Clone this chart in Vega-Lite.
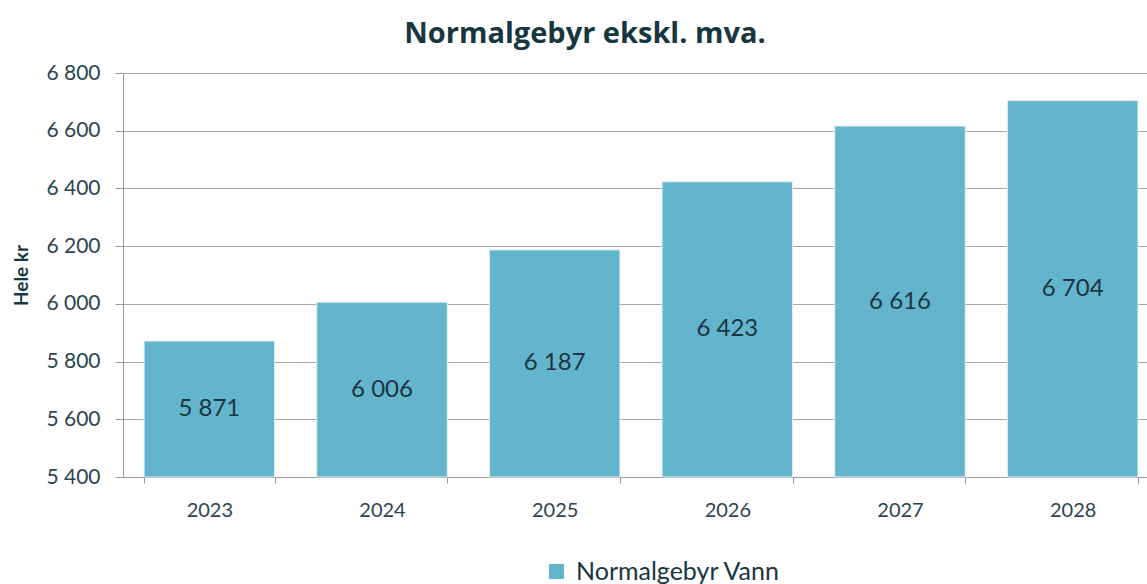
{
  "$schema": "https://vega.github.io/schema/vega-lite/v6.json",
  "autosize": "none",
  "padding": {"left": 123, "top": 73, "right": 0, "bottom": 107},
  "width": 1036,
  "height": 404,
  "background": "white",
  "config": {
    "locale": {"number": {"decimal": ",", "thousands": " ", "grouping": [3], "currency": ["", " kr"]}},
    "view": {"stroke": null},
    "font": "Lato"
  },
  "title": {
    "text": "Normalgebyr ekskl. mva.",
    "fontSize": 29,
    "fontWeight": "bold",
    "font": "Open Sans",
    "color": "#17363f",
    "anchor": "middle",
    "dx": -56,
    "dy": 40,
    "offset": 30,
    "baseline": "alphabetic"
  },
  "data": {
    "values": [
      {"year": "2023", "value": 5871, "series": "Normalgebyr Vann"},
      {"year": "2024", "value": 6006, "series": "Normalgebyr Vann"},
      {"year": "2025", "value": 6187, "series": "Normalgebyr Vann"},
      {"year": "2026", "value": 6423, "series": "Normalgebyr Vann"},
      {"year": "2027", "value": 6616, "series": "Normalgebyr Vann"},
      {"year": "2028", "value": 6704, "series": "Normalgebyr Vann"}
    ]
  },
  "encoding": {
    "x": {
      "field": "year",
      "type": "nominal",
      "sort": null,
      "scale": {"paddingInner": 0.244, "paddingOuter": 0.122},
      "axis": {
        "title": null,
        "labelAngle": 0,
        "tickBand": "extent",
        "labelFontSize": 20,
        "labelColor": "#2b4550",
        "labelPadding": 17,
        "tickSize": 6,
        "tickColor": "#9a9a9a",
        "domainColor": "#9a9a9a",
        "grid": false
      }
    }
  },
  "layer": [
    {
      "mark": {"type": "bar", "color": "#62b5cc", "stroke": "#dff0f5", "strokeWidth": 1},
      "encoding": {
        "y": {
          "field": "value",
          "type": "quantitative",
          "scale": {"domain": [5400, 6800], "nice": false, "zero": false},
          "axis": {
            "title": "Hele kr",
            "titleFontSize": 19,
            "titleFontWeight": "bold",
            "titleColor": "#17363f",
            "titlePadding": 14,
            "values": [5400, 5600, 5800, 6000, 6200, 6400, 6600, 6800],
            "format": ",d",
            "labelFontSize": 21,
            "labelColor": "#2b4550",
            "labelPadding": 15,
            "tickSize": 8,
            "tickColor": "#9a9a9a",
            "domainColor": "#9a9a9a",
            "gridColor": "#a6a6a6",
            "gridWidth": 1.2
          }
        },
        "y2": {"datum": 5400},
        "color": {
          "field": "series",
          "type": "nominal",
          "scale": {"range": ["#62b5cc"]},
          "legend": {
            "title": null,
            "orient": "none",
            "legendX": 421,
            "legendY": 486,
            "symbolType": "square",
            "symbolSize": 225,
            "symbolStrokeWidth": 0,
            "labelFontSize": 25,
            "labelLimit": 500,
            "labelColor": "#17363f",
            "labelOffset": 7,
            "padding": 0
          }
        }
      }
    },
    {
      "transform": [{"calculate": "(datum.value + 5400) / 2", "as": "mid"}],
      "mark": {"type": "text", "fontSize": 24, "color": "#1d3540", "baseline": "middle"},
      "encoding": {
        "y": {"field": "mid", "type": "quantitative"},
        "text": {"field": "value", "type": "quantitative", "format": ",d"}
      }
    }
  ]
}
